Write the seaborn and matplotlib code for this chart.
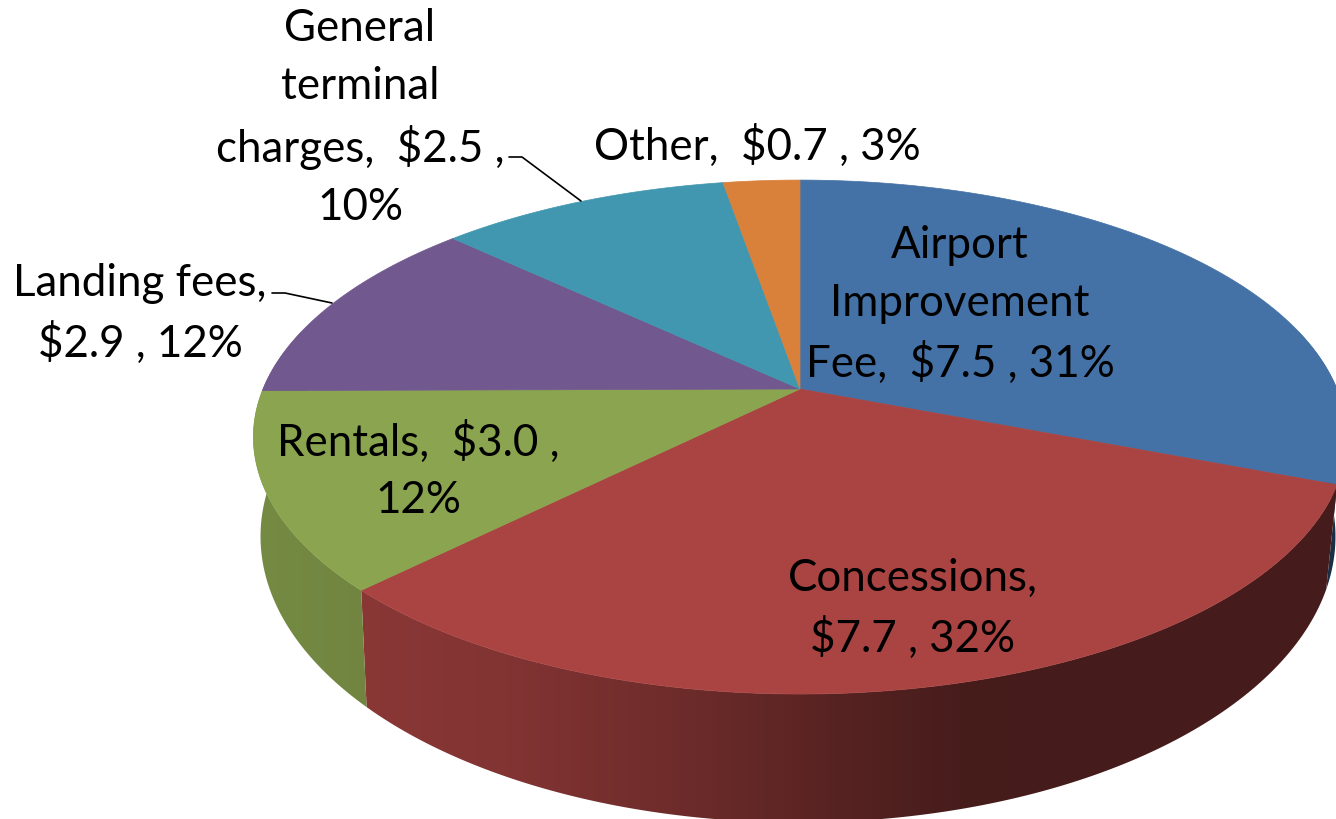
import numpy as np
import matplotlib
matplotlib.use("Agg")
import matplotlib.pyplot as plt
from matplotlib.patches import Polygon
import seaborn as sns

# values in $ (slices run clockwise from 12 o'clock)
categories = ["Airport Improvement Fee", "Concessions", "Rentals", "Landing fees",
              "General terminal charges", "Other"]
values = [7.5, 7.7, 3.0, 2.94, 2.5, 0.66]
shares = [31, 32, 12, 12, 10, 3]
colors = ["#4472a6", "#a94442", "#8ba44f", "#71588e", "#4197af", "#d9803a"]

# text layout per slice: line breaks, centre of label
breaks = ["Airport\nImprovement\nFee,  {v} , {p}", "Concessions,\n{v} , {p}", "Rentals,  {v} ,\n{p}",
          "Landing fees,\n{v} , {p}", "General\nterminal\ncharges,  {v} ,\n{p}", "Other,  {v} , {p}"]
label_xy = [(960, 305), (913, 609), (418, 471), (140, 314), (360, 118), (757, 146)]

sns.set_theme(style="white")
plt.rcParams["font.family"] = ["Lato", "DejaVu Sans"]
palette = sns.color_palette(colors)


def top_face(theta):
    # circle -> screen, perspective tilt
    u, v = np.sin(theta), np.cos(theta)
    w = 1 + 0.187 * v
    return 800 + 537 * u / w, 390 - 248 * v / w


def bottom_face(theta):
    u, v = np.sin(theta), np.cos(theta)
    w = 1 + 0.187 * v
    return 798 + 528 * u / w, 484 - 276 * v / w


def shade(x):
    return np.interp(x, [260, 375, 520, 700, 850, 960, 1040], [.84, .81, .76, .63, .50, .42, .41])


fig, ax = plt.subplots(figsize=(13.36, 8.2), dpi=100)
fig.subplots_adjust(0, 0, 1, 1)
ax.axis("off")

edges = np.concatenate([[0], np.cumsum(values)]) / np.sum(values) * 2 * np.pi

# side wall first, gradient image clipped to each slice's wall
xs = np.arange(0, 1336)
for i in range(len(values)):
    th = np.linspace(edges[i], edges[i + 1], 200)
    th = th[np.cos(th) < 0.25]
    if len(th) < 2:
        continue
    xt, yt = top_face(th)
    xb, yb = bottom_face(th[::-1])
    wall = Polygon(np.c_[np.r_[xt, xb], np.r_[yt, yb]], closed=True, transform=ax.transData,
                   fc="none", ec="none")
    ax.add_patch(wall)
    grad = np.array(palette[i])[None, None, :] * shade(xs)[None, :, None]
    im = ax.imshow(grad, extent=(0, 1336, 820, 0), aspect="auto", zorder=1, interpolation="bilinear")
    im.set_clip_path(wall)

ax.set_xlim(0, 1336)
ax.set_ylim(820, 0)

# top of the pie
for i in range(len(values)):
    th = np.linspace(edges[i], edges[i + 1], 200)
    x, y = top_face(th)
    ax.fill(np.r_[800, x], np.r_[390, y], color=palette[i], lw=0.5, zorder=2)

# labels
for i in range(len(values)):
    txt = breaks[i].format(v="\\$%.1f" % values[i], p="%d%%" % shares[i])
    ax.text(label_xy[i][0], label_xy[i][1], txt, ha="center", va="center",
            fontsize=31.6, color="black", linespacing=1.51, zorder=3)

# leader lines
ax.plot([509, 522, 581], [158, 158, 202], color="black", lw=1.2, zorder=3)
ax.plot([272, 285, 332], [294, 294, 304], color="black", lw=1.2, zorder=3)

fig.savefig("out.png", dpi=100)
